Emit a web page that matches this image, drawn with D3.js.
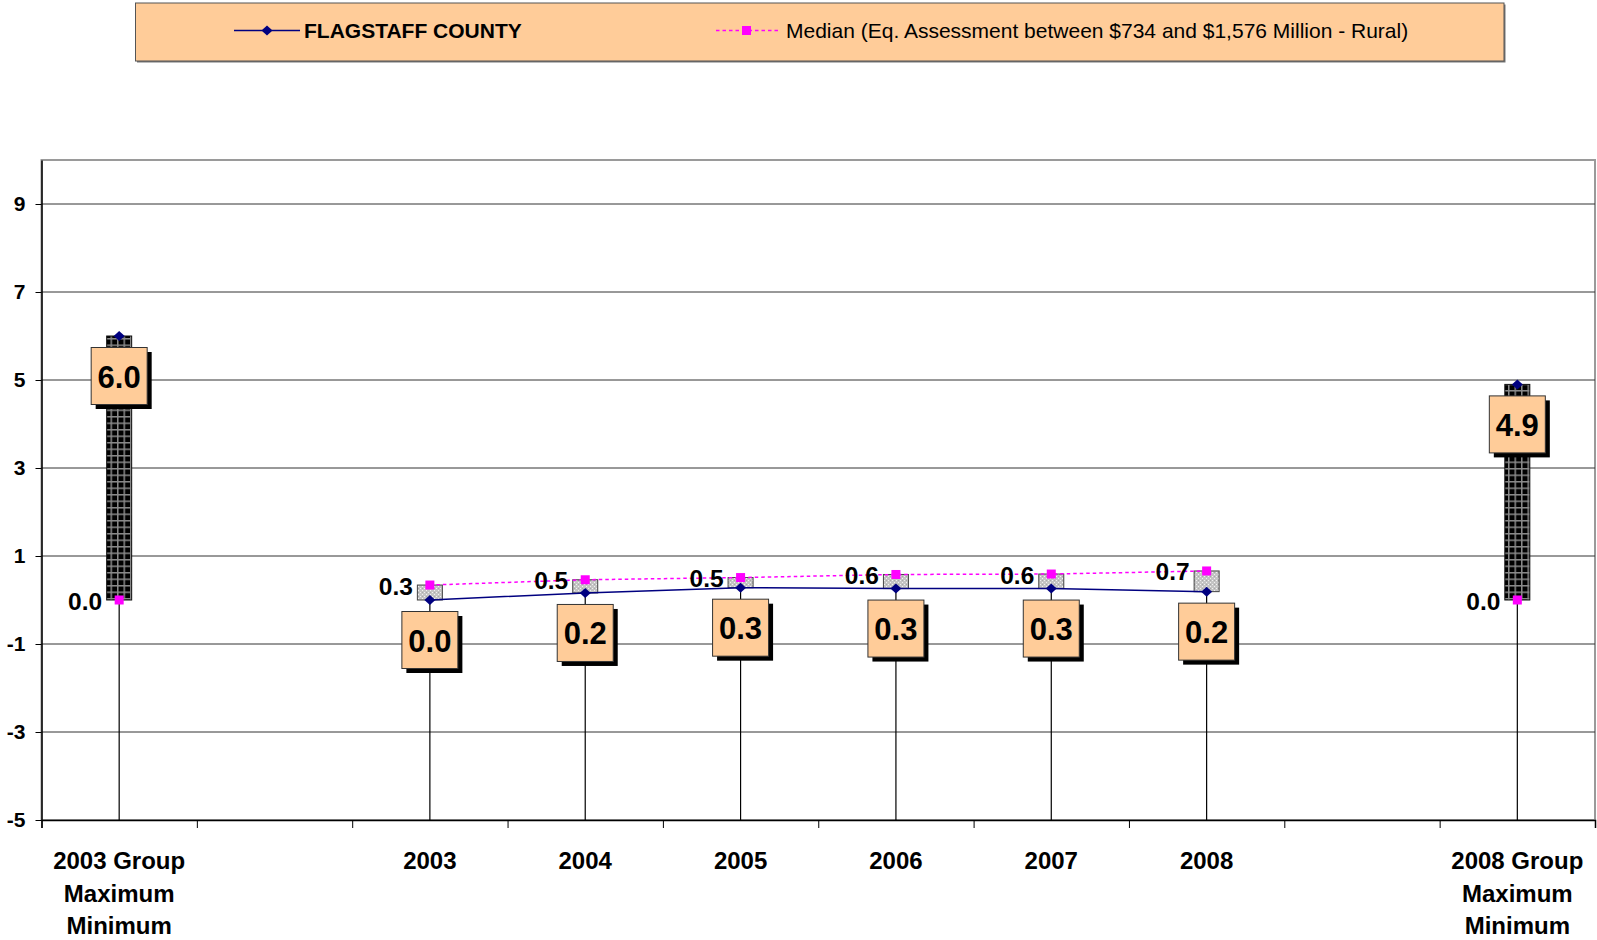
<!DOCTYPE html>
<html>
<head>
<meta charset="utf-8">
<script src="https://cdn.jsdelivr.net/npm/d3@7"></script>
<style>
  html, body { margin: 0; padding: 0; background: #fff; }
  svg { display: block; font-family: Arial, "Liberation Sans", sans-serif; }
</style>
</head>
<body>
<svg id="chart" width="1597" height="940"></svg>
<script>
// ---- data ----
const categoryLabels = [
  ["2003 Group", "Maximum", "Minimum"], [], ["2003"], ["2004"], ["2005"],
  ["2006"], ["2007"], ["2008"], [], ["2008 Group", "Maximum", "Minimum"]
];
const countyValues = [6.0, null, 0.0, 0.16, 0.28, 0.26, 0.26, 0.19, null, 4.9];
const medianValues = [0.0, null, 0.34, 0.46, 0.51, 0.58, 0.59, 0.66, null, 0.0];
const yTickValues = [-5, -3, -1, 1, 3, 5, 7, 9];
const yDomain = [-5, 10];
const legendLabels = ["FLAGSTAFF COUNTY", "Median (Eq. Assessment between $734 and $1,576 Million - Rural)"];

// ---- layout ----
const svg = d3.select("#chart");
const plot = { left: 41.5, right: 1595, top: 160, bottom: 820 };
const NAVY = "#000080", MAGENTA = "#FF00FF", PEACH = "#FFCC99";

const idx = d3.range(categoryLabels.length);
const x = d3.scaleBand().domain(idx).range([plot.left, plot.right]).padding(0);
const xEdge = d3.scaleLinear().domain([0, categoryLabels.length]).range([plot.left, plot.right]);
const y = d3.scaleLinear().domain(yDomain).range([plot.bottom, plot.top]);
const cx = i => x(i) + x.bandwidth() / 2;

// patterns
const defs = svg.append("defs");
const pd = defs.append("pattern").attr("id", "darkGrid").attr("patternUnits", "userSpaceOnUse")
  .attr("width", 6.5).attr("height", 6.5);
pd.append("rect").attr("width", 6.5).attr("height", 6.5).attr("fill", "#8a8a8a");
pd.append("rect").attr("x", 1.5).attr("y", 1.5).attr("width", 5).attr("height", 5).attr("fill", "#000");
const pl = defs.append("pattern").attr("id", "lightDots").attr("patternUnits", "userSpaceOnUse")
  .attr("width", 4).attr("height", 4);
pl.append("rect").attr("width", 4).attr("height", 4).attr("fill", "#c4c4c4");
pl.append("rect").attr("x", 0).attr("y", 0).attr("width", 1).attr("height", 1).attr("fill", "#f2f2f2");
pl.append("rect").attr("x", 2).attr("y", 2).attr("width", 1).attr("height", 1).attr("fill", "#f2f2f2");
pl.append("rect").attr("x", 2).attr("y", 0).attr("width", 1).attr("height", 1).attr("fill", "#a8a8a8");

// ---- legend ----
const lg = svg.append("g");
const lgBox = { x: 135.5, y: 3, w: 1368.5, h: 58 };
lg.append("rect").attr("x", lgBox.x + 1.5).attr("y", lgBox.y + 1.5).attr("width", lgBox.w).attr("height", lgBox.h).attr("fill", "#777");
lg.append("rect").attr("x", lgBox.x).attr("y", lgBox.y).attr("width", lgBox.w).attr("height", lgBox.h)
  .attr("fill", PEACH).attr("stroke", "#555").attr("stroke-width", 1);
const ly = 30.5;
lg.append("line").attr("x1", 234).attr("x2", 300).attr("y1", ly).attr("y2", ly).attr("stroke", NAVY).attr("stroke-width", 1.5);
lg.append("path").attr("d", `M267,${ly-5} L272.5,${ly} L267,${ly+5} L261.5,${ly} Z`).attr("fill", NAVY);
lg.append("text").attr("x", 304).attr("y", ly).attr("dominant-baseline", "central")
  .attr("font-size", 21).attr("font-weight", "bold").text(legendLabels[0]);
lg.append("line").attr("x1", 716).attr("x2", 779).attr("y1", ly).attr("y2", ly).attr("stroke", MAGENTA)
  .attr("stroke-width", 1.5).attr("stroke-dasharray", "3.5,3");
lg.append("rect").attr("x", 742).attr("y", ly - 4.5).attr("width", 9).attr("height", 9).attr("fill", MAGENTA);
lg.append("text").attr("x", 786).attr("y", ly).attr("dominant-baseline", "central")
  .attr("font-size", 21).text(legendLabels[1]);

// ---- plot border & gridlines ----
svg.append("rect").attr("x", plot.left).attr("y", plot.top).attr("width", plot.right - plot.left)
  .attr("height", plot.bottom - plot.top).attr("fill", "#fff").attr("stroke", "#9a9a9a").attr("stroke-width", 2);
svg.append("g").selectAll("line").data(yTickValues.filter(v => v !== yDomain[0])).join("line")
  .attr("x1", plot.left).attr("x2", plot.right).attr("y1", d => y(d)).attr("y2", d => y(d))
  .attr("stroke", "#333").attr("stroke-width", 1);

// ---- high-low lines (down to axis floor) ----
svg.append("g").selectAll("line").data(idx.filter(i => countyValues[i] != null)).join("line")
  .attr("x1", i => cx(i)).attr("x2", i => cx(i))
  .attr("y1", i => y(Math.min(countyValues[i], medianValues[i])))
  .attr("y2", y(yDomain[0]))
  .attr("stroke", "#000").attr("stroke-width", 1.2);

// ---- up/down bars ----
const barW = 25;
svg.append("g").selectAll("rect").data(idx.filter(i => countyValues[i] != null)).join("rect")
  .attr("x", i => cx(i) - barW / 2)
  .attr("y", i => y(Math.max(countyValues[i], medianValues[i])))
  .attr("width", barW)
  .attr("height", i => Math.abs(y(countyValues[i]) - y(medianValues[i])))
  .attr("fill", i => countyValues[i] > medianValues[i] ? "url(#darkGrid)" : "url(#lightDots)")
  .attr("stroke", i => countyValues[i] > medianValues[i] ? "#111" : "#444")
  .attr("stroke-width", 1);

// ---- series lines ----
const pts = vals => idx.map(i => ({ i, v: vals[i] }));
const line = d3.line().defined(d => d.v != null).x(d => cx(d.i)).y(d => y(d.v));
svg.append("path").datum(pts(medianValues)).attr("d", line).attr("fill", "none")
  .attr("stroke", MAGENTA).attr("stroke-width", 1.5).attr("stroke-dasharray", "3.5,3");
svg.append("path").datum(pts(countyValues)).attr("d", line).attr("fill", "none")
  .attr("stroke", NAVY).attr("stroke-width", 1.5);

// ---- axes ----
const yAxis = svg.append("g").attr("transform", `translate(${plot.left},0)`)
  .call(d3.axisLeft(y).tickValues(yTickValues).tickSizeInner(6).tickSizeOuter(0).tickPadding(10).tickFormat(d => String(d)));
yAxis.select(".domain").attr("stroke", "#000").attr("stroke-width", 1.5);
yAxis.selectAll(".tick line").attr("stroke", "#000");
yAxis.selectAll(".tick text").attr("font-size", 21).attr("font-weight", "bold").attr("fill", "#000")
  .attr("font-family", "Arial, 'Liberation Sans', sans-serif");

const xAxis = svg.append("g").attr("transform", `translate(0,${plot.bottom})`)
  .call(d3.axisBottom(xEdge).tickValues(d3.range(categoryLabels.length + 1)).tickSize(8).tickFormat(""));
xAxis.select(".domain").attr("stroke", "#000").attr("stroke-width", 1.5);
xAxis.selectAll(".tick line").attr("stroke", "#000");

const catG = svg.append("g");
idx.forEach(i => {
  const t = catG.append("text").attr("x", cx(i)).attr("y", 869).attr("text-anchor", "middle")
    .attr("font-size", 24).attr("font-weight", "bold").attr("fill", "#000");
  categoryLabels[i].forEach((s, k) => {
    t.append("tspan").attr("x", cx(i)).attr("dy", k === 0 ? 0 : 32.5).text(s);
  });
});

// ---- markers ----
svg.append("g").selectAll("path").data(idx.filter(i => countyValues[i] != null)).join("path")
  .attr("d", i => { const px = cx(i), py = y(countyValues[i]);
    return `M${px},${py-5} L${px+5.5},${py} L${px},${py+5} L${px-5.5},${py} Z`; })
  .attr("fill", NAVY);
svg.append("g").selectAll("rect").data(idx.filter(i => medianValues[i] != null)).join("rect")
  .attr("x", i => cx(i) - 4.5).attr("y", i => y(medianValues[i]) - 4.5)
  .attr("width", 9).attr("height", 9).attr("fill", MAGENTA);

// ---- median labels (left) ----
svg.append("g").selectAll("text").data(idx.filter(i => medianValues[i] != null)).join("text")
  .attr("x", i => cx(i) - 17).attr("y", i => y(medianValues[i]) + 1)
  .attr("text-anchor", "end").attr("dominant-baseline", "central")
  .attr("font-size", 24.5).attr("font-weight", "bold").attr("fill", "#000")
  .text(i => medianValues[i].toFixed(1));

// ---- county labels (boxed, below) ----
const boxW = 56, boxH = 57, gap = 11.5;
const lab = svg.append("g").selectAll("g").data(idx.filter(i => countyValues[i] != null)).join("g")
  .attr("transform", i => `translate(${cx(i) - boxW / 2},${y(countyValues[i]) + gap})`);
lab.append("rect").attr("x", 4.5).attr("y", 4.5).attr("width", boxW).attr("height", boxH).attr("fill", "#000");
lab.append("rect").attr("width", boxW).attr("height", boxH).attr("fill", PEACH).attr("stroke", "#333").attr("stroke-width", 1);
lab.append("text").attr("x", boxW / 2).attr("y", boxH / 2 + 1).attr("text-anchor", "middle")
  .attr("dominant-baseline", "central").attr("font-size", 31).attr("font-weight", "bold").attr("fill", "#000")
  .text(i => countyValues[i].toFixed(1));
</script>
</body>
</html>
